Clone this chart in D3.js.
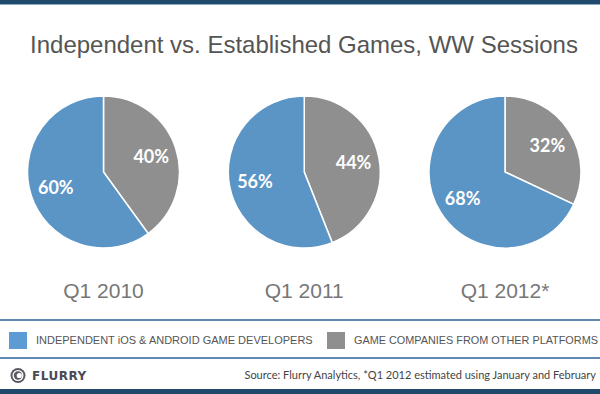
<!DOCTYPE html>
<html>
<head>
<meta charset="utf-8">
<script src="https://cdn.jsdelivr.net/npm/d3@7"></script>
<style>
  body { margin: 0; background: #fff; }
  svg { display: block; }
</style>
</head>
<body>
<div id="chart"></div>
<script>
// Data
var quarters = ["Q1 2010", "Q1 2011", "Q1 2012*"];
var independent = [60, 56, 68];
var established = [40, 44, 32];
var seriesNames = ["INDEPENDENT iOS & ANDROID GAME DEVELOPERS", "GAME COMPANIES FROM OTHER PLATFORMS"];
var title = "Independent vs. Established Games, WW Sessions";
var source = "Source: Flurry Analytics, *Q1 2012 estimated using January and February";

// Global
var width = 600, height = 394;
var blue = "#5b95c6", gray = "#8f8f8f";
var barColor = "#21496c", ruleColor = "#6189b0";
var radius = 76, pieY = 172;
var sans = "'Liberation Sans', Arial, Helvetica, sans-serif";

var svg = d3.select("#chart").append("svg")
    .attr("width", width)
    .attr("height", height);

// shrink/grow font so the text spans the wanted width
function fitWidth(sel, target) {
    var w = sel.node().getComputedTextLength();
    var fs = parseFloat(sel.style("font-size"));
    if (w > 0) sel.style("font-size", (fs * target / w).toFixed(2) + "px");
}

// top band
svg.append("rect").attr("x", 0).attr("y", 0).attr("width", width).attr("height", 4).attr("fill", barColor);
svg.append("rect").attr("x", 0).attr("y", 4).attr("width", width).attr("height", 1).attr("fill", "#8ea9c2");

// title
var t = svg.append("text")
    .attr("x", 304).attr("y", 53)
    .attr("text-anchor", "middle")
    .style("font-family", sans)
    .style("font-size", "23px")
    .style("fill", "#555")
    .text(title);
fitWidth(t, 548);

// pies
var x = d3.scalePoint().domain(quarters).range([103.5, 505]);
var pie = d3.pie().sort(null).value(function (d) { return d.value; });
var arc = d3.arc().innerRadius(0).outerRadius(radius);
var labelArc = d3.arc().innerRadius(radius * 0.66).outerRadius(radius * 0.66);

quarters.forEach(function (q, i) {
    var slices = [
        { key: "est", value: established[i], color: gray },
        { key: "ind", value: independent[i], color: blue }
    ];
    var g = svg.append("g")
        .attr("transform", "translate(" + x(q) + "," + pieY + ")");

    g.selectAll("path")
        .data(pie(slices))
        .enter()
        .append("path")
        .attr("d", arc)
        .attr("fill", function (d) { return d.data.color; })
        .attr("stroke", "#fff")
        .attr("stroke-width", 1.5);

    g.selectAll("text")
        .data(pie(slices))
        .enter()
        .append("text")
        .attr("transform", function (d) { return "translate(" + labelArc.centroid(d) + ")"; })
        .attr("text-anchor", "middle")
        .attr("dy", "0.36em")
        .style("font-family", "Lato, 'Open Sans', sans-serif")
        .style("font-weight", "bold")
        .style("font-size", "18px")
        .style("fill", "#fff")
        .text(function (d) { return d.data.value + "%"; });

    svg.append("text")
        .attr("x", x(q)).attr("y", 298)
        .attr("text-anchor", "middle")
        .style("font-family", sans)
        .style("font-size", "21px")
        .style("fill", "#777")
        .text(q);
});

// legend rules
svg.append("rect").attr("x", 0).attr("y", 319).attr("width", width).attr("height", 2).attr("fill", ruleColor);
svg.append("rect").attr("x", 0).attr("y", 357).attr("width", width).attr("height", 2).attr("fill", ruleColor);

// legend
var legX = [9, 327];
var legWidths = [277, 244];
var legColors = ["#5d9bd4", gray];
seriesNames.forEach(function (name, i) {
    svg.append("rect")
        .attr("x", legX[i]).attr("y", 332)
        .attr("width", 18).attr("height", 17)
        .attr("fill", legColors[i]);
    var lt = svg.append("text")
        .attr("x", legX[i] + 27).attr("y", 344)
        .style("font-family", sans)
        .style("font-size", "11px")
        .style("fill", "#555")
        .text(name);
    fitWidth(lt, legWidths[i]);
});

// logo
var logo = svg.append("g").attr("transform", "translate(18,375.5)");
logo.append("circle").attr("r", 7.5).attr("fill", "#5a5a62");
logo.append("circle").attr("r", 5.5).attr("fill", "#fff");
logo.append("circle").attr("r", 4.2).attr("fill", "#5a5a62");
logo.append("circle").attr("cx", 1.3).attr("r", 2.6).attr("fill", "#fff");
var ft = svg.append("text")
    .attr("x", 32).attr("y", 380)
    .style("font-family", "'DejaVu Sans', sans-serif")
    .style("font-weight", "bold")
    .style("font-size", "12px")
    .style("letter-spacing", "0.5px")
    .style("fill", "#4a4a55")
    .text("FLURRY");

// source
var st = svg.append("text")
    .attr("x", 596).attr("y", 379)
    .attr("text-anchor", "end")
    .style("font-family", "Lato, sans-serif")
    .style("font-size", "11px")
    .style("fill", "#444")
    .text(source);
fitWidth(st, 352);

// bottom band
svg.append("rect").attr("x", 0).attr("y", 389).attr("width", width).attr("height", 5).attr("fill", barColor);
</script>
</body>
</html>
